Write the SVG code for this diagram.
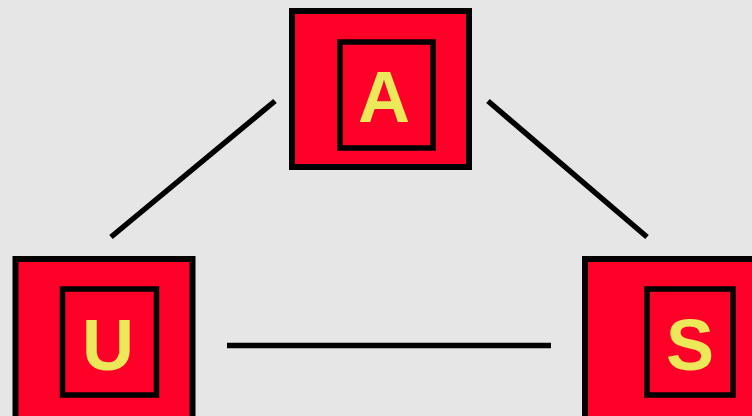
<svg xmlns="http://www.w3.org/2000/svg" width="752" height="416" viewBox="0 0 752 416">
  <style>
    .outer { fill: #ff0029; stroke: #000; stroke-width: 6; }
    .inner { fill: #ff0029; stroke: #000; stroke-width: 5.5; }
    .label { fill: #ebe95a; font-family: "Liberation Sans", Arial, sans-serif; font-weight: bold; font-size: 72px; text-anchor: middle; }
    .edge { stroke: #000; stroke-width: 5.5; fill: none; }
  </style>
  <rect width="752" height="416" fill="#e6e6e6"/>
  <g id="connectors">
    <line class="edge" x1="275" y1="101" x2="111" y2="237"/>
    <line class="edge" x1="488" y1="101" x2="647" y2="237"/>
    <line class="edge" x1="227" y1="345.5" x2="551" y2="345.5"/>
  </g>
  <g id="node-A">
    <rect class="outer" x="292" y="11" width="177" height="156"/>
    <rect class="inner" x="340" y="42" width="93" height="106"/>
    <text class="label" x="384" y="122">A</text>
  </g>
  <g id="node-U">
    <rect class="outer" x="15.5" y="259" width="177" height="170"/>
    <rect class="inner" x="62.5" y="289" width="94" height="106"/>
    <text class="label" x="108" y="370">U</text>
  </g>
  <g id="node-S">
    <rect class="outer" x="585" y="259" width="177" height="170"/>
    <rect class="inner" x="647" y="289" width="86" height="106"/>
    <text class="label" x="690" y="370">S</text>
  </g>
</svg>
